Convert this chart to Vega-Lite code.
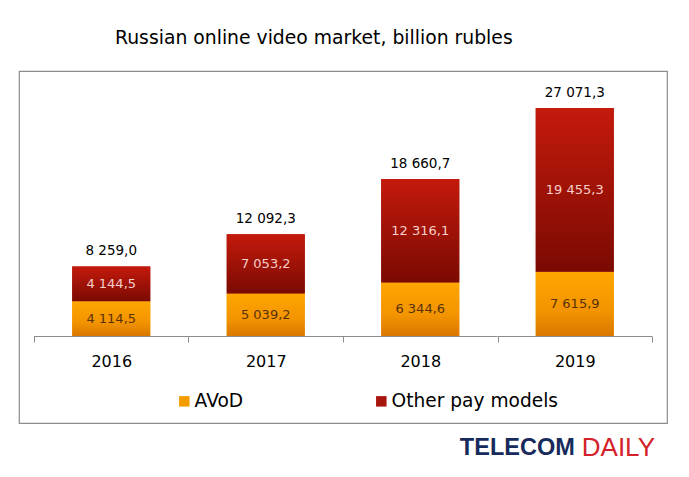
{
  "$schema": "https://vega.github.io/schema/vega-lite/v6.json",
  "width": 648,
  "height": 352,
  "autosize": "none",
  "padding": {"left": 19, "top": 71, "right": 22, "bottom": 54},
  "config": {
    "font": "DejaVu Sans",
    "locale": {
      "number": {"decimal": ",", "thousands": " ", "grouping": [3], "currency": ["", ""]}
    },
    "view": {"stroke": "#8c8c8c", "strokeWidth": 1.2}
  },
  "title": {
    "text": "Russian online video market, billion rubles",
    "anchor": "start",
    "dx": 96,
    "offset": 23,
    "fontSize": 18.8,
    "fontWeight": "normal",
    "color": "#000000"
  },
  "data": {
    "values": [
      {"year": "2016", "series": "AVoD", "value": 4114.5},
      {"year": "2016", "series": "Other pay models", "value": 4144.5},
      {"year": "2017", "series": "AVoD", "value": 5039.2},
      {"year": "2017", "series": "Other pay models", "value": 7053.2},
      {"year": "2018", "series": "AVoD", "value": 6344.6},
      {"year": "2018", "series": "Other pay models", "value": 12316.1},
      {"year": "2019", "series": "AVoD", "value": 7615.9},
      {"year": "2019", "series": "Other pay models", "value": 19455.3}
    ]
  },
  "transform": [
    {
      "stack": "value",
      "groupby": ["year"],
      "sort": [{"field": "series", "order": "ascending"}],
      "as": ["y0", "y1"]
    }
  ],
  "encoding": {
    "x": {
      "field": "year",
      "type": "nominal",
      "scale": {"paddingInner": 0, "paddingOuter": 0.097},
      "axis": {
        "title": null,
        "labelAngle": 0,
        "domain": false,
        "offset": -87,
        "tickBand": "extent",
        "tickColor": "#8c8c8c",
        "tickSize": 6,
        "labelPadding": 11,
        "labelFontSize": 16,
        "labelColor": "#000000"
      }
    }
  },
  "layer": [
    {
      "mark": {"type": "bar", "width": {"band": 0.505}},
      "encoding": {
        "y": {
          "field": "y0",
          "type": "quantitative",
          "scale": {"domain": [-10333, 31473], "nice": false, "zero": false},
          "axis": null
        },
        "y2": {"field": "y1"},
        "fill": {
          "field": "series",
          "type": "nominal",
          "scale": {"domain": ["AVoD", "Other pay models"], "range": ["#f29c00", "#a8150c"]},
          "legend": {
            "title": null,
            "orient": "none",
            "direction": "horizontal",
            "columns": 2,
            "legendX": 156,
            "legendY": 321,
            "padding": 0,
            "columnPadding": 128,
            "symbolType": "square",
            "symbolSize": 110,
            "symbolStrokeWidth": 0,
            "labelFontSize": 18.6,
            "labelOffset": 1,
            "labelLimit": 300,
            "labelColor": "#000000"
          }
        }
      }
    },
    {
      "transform": [{"filter": "datum.series === 'AVoD'"}],
      "mark": {
        "type": "bar",
        "width": {"band": 0.505},
        "color": {
          "gradient": "linear",
          "x1": 0, "y1": 0, "x2": 0, "y2": 1,
          "stops": [
            {"offset": 0, "color": "#ffa600"},
            {"offset": 0.6, "color": "#f39400"},
            {"offset": 1, "color": "#d97700"}
          ]
        }
      },
      "encoding": {
        "y": {"field": "y0", "type": "quantitative"},
        "y2": {"field": "y1"}
      }
    },
    {
      "transform": [{"filter": "datum.series === 'Other pay models'"}],
      "mark": {
        "type": "bar",
        "width": {"band": 0.505},
        "color": {
          "gradient": "linear",
          "x1": 0, "y1": 0, "x2": 0, "y2": 1,
          "stops": [
            {"offset": 0, "color": "#c41a0c"},
            {"offset": 1, "color": "#7a0a02"}
          ]
        }
      },
      "encoding": {
        "y": {"field": "y0", "type": "quantitative"},
        "y2": {"field": "y1"}
      }
    },
    {
      "mark": {"type": "bar", "width": {"band": 1}, "color": "#8c8c8c"},
      "transform": [{"filter": "datum.series === 'AVoD'"}],
      "encoding": {
        "y": {"datum": 0, "type": "quantitative"},
        "y2": {"datum": -130}
      }
    },
    {
      "mark": {"type": "text", "fontSize": 13},
      "encoding": {
        "y": {
          "field": "value",
          "type": "quantitative",
          "stack": "zero",
          "bandPosition": 0.5
        },
        "order": {"field": "series"},
        "text": {"field": "value", "type": "quantitative", "format": ",.1f"},
        "color": {
          "field": "series",
          "type": "nominal",
          "scale": {"domain": ["AVoD", "Other pay models"], "range": ["#5a3208", "#f7cfc8"]},
          "legend": null
        }
      }
    },
    {
      "data": {
        "values": [
          {"year": "2016", "total": 8259.0},
          {"year": "2017", "total": 12092.3},
          {"year": "2018", "total": 18660.7},
          {"year": "2019", "total": 27071.3}
        ]
      },
      "transform": [],
      "mark": {"type": "text", "fontSize": 13.5, "baseline": "bottom", "dy": -8, "color": "#000000"},
      "encoding": {
        "y": {"field": "total", "type": "quantitative"},
        "text": {"field": "total", "type": "quantitative", "format": ",.1f"}
      }
    },
    {
      "data": {"values": [{"year": "2019", "label": "TELECOM", "pos": -13300}]},
      "transform": [],
      "mark": {
        "type": "text",
        "align": "right",
        "baseline": "middle",
        "dx": 0,
        "font": "Liberation Sans Narrow, Liberation Sans",
        "fontWeight": "bold",
        "fontSize": 23.5,
        "color": "#162a5c"
      },
      "encoding": {
        "y": {"field": "pos", "type": "quantitative"},
        "text": {"field": "label"}
      }
    },
    {
      "data": {"values": [{"year": "2019", "label": "DAILY", "pos": -13300}]},
      "transform": [],
      "mark": {
        "type": "text",
        "align": "left",
        "baseline": "middle",
        "dx": 7,
        "font": "Liberation Sans Narrow, Liberation Sans",
        "fontSize": 26,
        "color": "#d3222a"
      },
      "encoding": {
        "y": {"field": "pos", "type": "quantitative"},
        "text": {"field": "label"}
      }
    }
  ]
}
